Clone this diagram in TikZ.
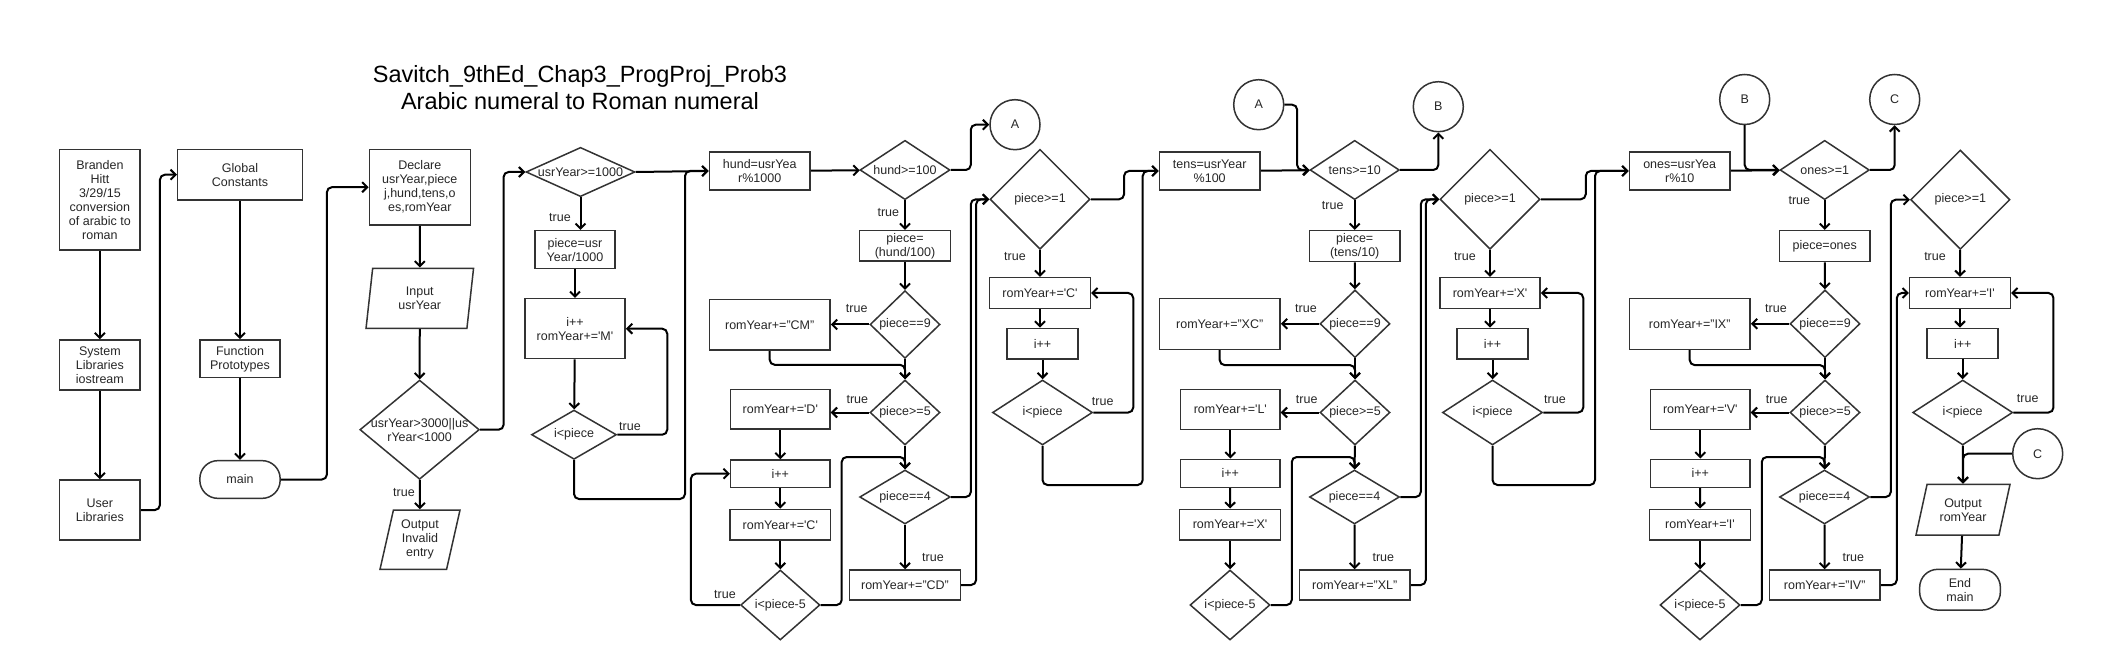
\documentclass[tikz,border=0pt]{standalone}
\usepackage{fontspec}
\setmainfont{Liberation Sans}
\usepackage{tikz}
\usetikzlibrary{arrows.meta,shapes.geometric}
\usepackage{xcolor}
\newcommand{\rch}[1]{\textquotesingle#1\textquotesingle}
\tikzset{
  box/.style 2 args={rectangle,draw=black!80,line width=1.5pt,align=center,inner sep=1pt,minimum width=#1,minimum height=#2},
  dec/.style 2 args={diamond,draw=black!80,line width=1.5pt,align=center,inner sep=0pt,minimum width=#1,minimum height=#2},
  io/.style 2 args={trapezium,trapezium left angle=72,trapezium right angle=108,trapezium stretches body,draw=black!80,line width=1.5pt,align=center,inner sep=1pt,minimum width=#1,minimum height=#2},
  term/.style 2 args={rectangle,rounded corners=18pt,draw=black!80,line width=1.5pt,align=center,minimum width=#1,minimum height=#2},
  offpage/.style={circle,draw=black!80,line width=1.5pt,minimum size=50pt,inner sep=0pt},
  lbl/.style={inner sep=0pt},
  arr/.style={-{Straight Barb[length=5pt,width=10pt]},line width=2pt,rounded corners=5pt}
}
\begin{document}
\begin{tikzpicture}[x=1pt,y=-1pt,font=\fontsize{12.5}{14}\selectfont,text=black!85]
\useasboundingbox (0,0) rectangle (2121,660);
\node[font=\fontsize{23.5}{27}\selectfont,align=center,text=black] (title) at (580,88) {Savitch\_9thEd\_Chap3\_ProgProj\_Prob3\\Arabic numeral to Roman numeral};

\node[box={80.6}{100.7}] (info) at (99.9,199.7) {Branden\\Hitt\\3/29/15\\conversion\\of arabic to\\roman};
\node[box={80.6}{50}] (syslib) at (99.9,365) {System\\Libraries\\iostream};
\node[box={80.6}{60}] (usrlib) at (99.9,510) {User\\Libraries};
\node[box={124.6}{50.7}] (glob) at (240,174.7) {Global\\Constants};
\node[box={80.3}{37.7}] (proto) at (240,358.8) {Function\\Prototypes};
\node[term={80.3}{37.7}] (main) at (240,479.5) {main};
\node[box={101}{75.7}] (decl) at (419.8,187.2) {Declare\\usrYear,piece\\j,hund,tens,o\\es,romYear};
\node[io={107.5}{60},trapezium left angle=75,trapezium right angle=105] (input) at (419.8,298.3) {Input\\usrYear};
\node[dec={119.5}{99.3},inner xsep=-14pt,inner ysep=-4pt,shape aspect=1.2] (chk) at (419.6,429.7) {usrYear>3000||us\\rYear<1000};
\node[io={80}{59.3}] (invalid) at (420,539.7) {Output\\Invalid\\entry};

\node[dec={109}{49.3},shape aspect=2.3] (th) at (580.5,172) {usrYear>=1000};
\node[box={80.3}{38}] (thpc) at (575,249.7) {piece=usr\\Year/1000};
\node[box={100.3}{60}] (thadd) at (575,328.7) {i++\\romYear+=\rch{M}};
\node[dec={85}{49.3},shape aspect=1.7] (thlp) at (574,434.7) {i<piece};

\node[box={100.7}{37.7}] (hund) at (759.7,171) {hund=usrYea\\r\%1000};
\node[dec={90}{59.3},shape aspect=1.5] (hchk) at (905,170) {hund>=100};
\node[offpage] (offA1) at (1015,124.7) {A};
\node[box={90.7}{30.3}] (hpc) at (905,245.8) {piece=\\(hund/100)};
\node[dec={70}{67.7}] (hnine) at (905,324.5) {piece==9};
\node[box={120.7}{50.7}] (hcm) at (769.7,324.7) {romYear+="CM"};
\node[dec={70}{65}] (hfive) at (905,412.5) {piece>=5};
\node[box={99.3}{39.7}] (hd) at (780.3,409.2) {romYear+=\rch{D}};
\node[box={99.3}{27.3}] (hinc) at (780.3,473.7) {i++};
\node[box={100.7}{30.7}] (hc) at (780.3,524.7) {romYear+=\rch{C}};
\node[dec={79.3}{70}] (hlp) at (780.3,605) {i<piece-5};
\node[dec={90.7}{54},shape aspect=1.67] (hfour) at (905,497) {piece==4};
\node[box={110.7}{30}] (hcd) at (905,585) {romYear+="CD"};
\node[dec={100}{100}] (hone) at (1040,199.3) {piece>=1};
\node[box={100.7}{30.7}] (hcc) at (1040,293) {romYear+=\rch{C}};
\node[box={70.7}{30.7}] (hinc2) at (1042.5,343.7) {i++};
\node[dec={100}{65}] (hlp2) at (1042.5,412.5) {i<piece};

\node[box={100.7}{37.7}] (tens) at (1209.7,171) {tens=usrYear\\\%100};
\node[offpage] (offA2) at (1258.7,104.7) {A};
\node[dec={89.3}{59.3},shape aspect=1.5] (tchk) at (1354.7,170) {tens>=10};
\node[offpage] (offB1) at (1438.3,106.7) {B};
\node[box={90.7}{31}] (tpc) at (1354.7,246.2) {piece=\\(tens/10)};
\node[dec={70}{67.7}] (tnine) at (1355,323.8) {piece==9};
\node[box={120.7}{50.7}] (txc) at (1219.7,324) {romYear+="XC"};
\node[dec={70}{65}] (tfive) at (1355,412.5) {piece>=5};
\node[box={99.3}{40}] (tl) at (1230.3,409.3) {romYear+=\rch{L}};
\node[box={99.3}{28}] (tinc) at (1230.3,473.3) {i++};
\node[box={100.7}{30.7}] (tx) at (1230,524.7) {romYear+=\rch{X}};
\node[dec={80}{70}] (tlp) at (1230,605) {i<piece-5};
\node[dec={90}{54},shape aspect=1.67] (tfour) at (1354.5,497) {piece==4};
\node[box={110.7}{30}] (txl) at (1354.7,585) {romYear+="XL"};
\node[dec={100}{100}] (tone) at (1490,199.3) {piece>=1};
\node[box={100}{30.7}] (txx) at (1490,293) {romYear+=\rch{X}};
\node[box={71}{30.7}] (tinc2) at (1492.5,343.7) {i++};
\node[dec={100}{65}] (tlp2) at (1492.5,412.5) {i<piece};

\node[box={100.7}{37.7}] (ones) at (1679.7,171) {ones=usrYea\\r\%10};
\node[offpage] (offB2) at (1744.7,99.5) {B};
\node[dec={89.3}{59.3},shape aspect=1.5] (ochk) at (1824.7,170) {ones>=1};
\node[offpage] (offC1) at (1894.7,99.5) {C};
\node[box={90.7}{31}] (opc) at (1824.7,246.2) {piece=ones};
\node[dec={70}{67.7}] (onine) at (1825,323.8) {piece==9};
\node[box={120.7}{50.7}] (oix) at (1689.7,324) {romYear+="IX"};
\node[dec={70}{65}] (ofive) at (1825,412.5) {piece>=5};
\node[box={99.3}{40}] (ov) at (1700.3,409.3) {romYear+=\rch{V}};
\node[box={99.3}{28}] (oinc) at (1700.3,473.3) {i++};
\node[box={100.7}{30.7}] (oi) at (1700,524.7) {romYear+=\rch{I}};
\node[dec={80}{70}] (olp) at (1700,605) {i<piece-5};
\node[dec={90}{54},shape aspect=1.67] (ofour) at (1824.5,497) {piece==4};
\node[box={110.7}{30}] (oiv) at (1824.7,585) {romYear+="IV"};
\node[dec={99.3}{99.3}] (oone) at (1960.3,199.7) {piece>=1};
\node[box={100.7}{30.7}] (oii) at (1960,293) {romYear+=\rch{I}};
\node[box={71}{30.4}] (oinc2) at (1962.7,343.5) {i++};
\node[dec={100}{65}] (olp2) at (1962.7,412.5) {i<piece};
\node[offpage] (offC2) at (2037.7,453.7) {C};
\node[io={94}{50.7},trapezium left angle=66,trapezium right angle=114] (out) at (1963,509.7) {Output\\romYear};
\node[term={80.7}{40.7}] (fin) at (1960,589.7) {End\\main};

\node[lbl] (t1) at (404,492.7) {true};
\node[lbl] (t2) at (560,217.7) {true};
\node[lbl] (t3) at (630,426.7) {true};
\node[lbl] (t4) at (888.3,212.7) {true};
\node[lbl] (t5) at (856.7,308.7) {true};
\node[lbl] (t6) at (857.3,399.3) {true};
\node[lbl] (t7) at (725,595) {true};
\node[lbl] (t8) at (933,557.7) {true};
\node[lbl] (t9) at (1015,256.7) {true};
\node[lbl] (t10) at (1102.7,401.7) {true};
\node[lbl] (t11) at (1332.7,205.7) {true};
\node[lbl] (t12) at (1306,308.3) {true};
\node[lbl] (t13) at (1306.7,399.3) {true};
\node[lbl] (t14) at (1383.3,557.7) {true};
\node[lbl] (t15) at (1465,256.7) {true};
\node[lbl] (t16) at (1555,399.3) {true};
\node[lbl] (t17) at (1799.3,200.7) {true};
\node[lbl] (t18) at (1776,308.3) {true};
\node[lbl] (t19) at (1776.7,399.3) {true};
\node[lbl] (t20) at (1853.3,557.7) {true};
\node[lbl] (t21) at (1935,256.7) {true};
\node[lbl] (t22) at (2027.7,398.3) {true};

\draw[arr] (info) -- (syslib);
\draw[arr] (syslib) -- (usrlib);
\draw[arr] (usrlib.east) -- ++(19,0) |- (glob.west);
\draw[arr] (glob) -- (proto);
\draw[arr] (proto) -- (main);
\draw[arr] (main.east) -- ++(46,0) |- (decl.west);
\draw[arr] (decl) -- (input);
\draw[arr] (input) -- (chk);
\draw[arr] (chk) -- (invalid);
\draw[arr] (chk.east) -- ++(23.5,0) |- (th.west);

\draw[arr] (th.south) -- (th.south |- thpc.north);
\draw[arr] (thpc) -- (thadd);
\draw[arr] (thadd) -- (thlp);
\draw[arr] (thlp.east) -- ++(50,0) |- (thadd.east);
\draw[arr] (thlp.south) |- (685,499) |- (hund.west);
\draw[arr] (th.east) -- (hund.west);

\draw[arr] (hund) -- (hchk);
\draw[arr] (hchk.east) -- ++(20,0) |- (offA1.west);
\draw[arr] (hchk) -- (hpc);
\draw[arr] (hpc) -- (hnine);
\draw[arr] (hnine.west) -- (hnine.west -| hcm.east);
\draw[arr] (hcm.south) -- ++(0,14) -| (hfive.north);
\draw[arr] (hnine) -- (hfive);
\draw[arr] (hfive.west) -- (hfive.west -| hd.east);
\draw[arr] (hd) -- (hinc);
\draw[arr] (hinc) -- (hc);
\draw[arr] (hc) -- (hlp);
\draw[arr] (hlp.west) -- ++(-49,0) |- (hinc.west);
\draw[arr] (hlp.east) -| ++(21,-148) -| (hfour.north);
\draw[arr] (hfive) -- (hfour);
\draw[arr] (hfour) -- (hcd);
\draw[arr] (hfour.east) -- ++(19.7,0) |- (hone.west);
\draw[arr] (hcd.east) -- ++(15,0) |- (hone.west);
\draw[arr] (hone) -- (hcc);
\draw[arr] (hcc.south) -- (hcc.south |- hinc2.north);
\draw[arr] (hinc2) -- (hlp2);
\draw[arr] (hlp2.east) -- ++(40,0) |- (hcc.east);
\draw[arr] (hlp2.south) |- (1142.7,485) |- (tens.west);
\draw[arr] (hone.east) -- ++(33.3,0) |- (tens.west);

\draw[arr] (tens) -- (tchk);
\draw[arr] (offA2.east) -- ++(12.7,0) |- (tchk.west);
\draw[arr] (tchk.east) -| (offB1.south);
\draw[arr] (tchk) -- (tpc);
\draw[arr] (tpc) -- (tnine);
\draw[arr] (tnine.west) -- (tnine.west -| txc.east);
\draw[arr] (txc.south) -- ++(0,15) -| (tfive.north);
\draw[arr] (tnine) -- (tfive);
\draw[arr] (tfive.west) -- (tfive.west -| tl.east);
\draw[arr] (tl) -- (tinc);
\draw[arr] (tinc) -- (tx);
\draw[arr] (tx) -- (tlp);
\draw[arr] (tlp.east) -| ++(21,-148) -| (tfour.north);
\draw[arr] (tfive) -- (tfour);
\draw[arr] (tfour) -- (txl);
\draw[arr] (tfour.east) -- ++(20.5,0) |- (tone.west);
\draw[arr] (txl.east) -- ++(15,0) |- (tone.west);
\draw[arr] (tone) -- (txx);
\draw[arr] (txx.south) -- (txx.south |- tinc2.north);
\draw[arr] (tinc2) -- (tlp2);
\draw[arr] (tlp2.east) -- ++(40,0) |- (txx.east);
\draw[arr] (tlp2.south) |- (1595,485) |- (ones.west);
\draw[arr] (tone.east) -- ++(45,0) |- (ones.west);

\draw[arr] (ones) -- (ochk);
\draw[arr] (offB2.south) |- (ochk.west);
\draw[arr] (ochk.east) -| (offC1.south);
\draw[arr] (ochk) -- (opc);
\draw[arr] (opc) -- (onine);
\draw[arr] (onine.west) -- (onine.west -| oix.east);
\draw[arr] (oix.south) -- ++(0,15) -| (ofive.north);
\draw[arr] (onine) -- (ofive);
\draw[arr] (ofive.west) -- (ofive.west -| ov.east);
\draw[arr] (ov) -- (oinc);
\draw[arr] (oinc) -- (oi);
\draw[arr] (oi) -- (olp);
\draw[arr] (olp.east) -| ++(21,-148) -| (ofour.north);
\draw[arr] (ofive) -- (ofour);
\draw[arr] (ofour) -- (oiv);
\draw[arr] (ofour.east) -- ++(20.5,0) |- (oone.west);
\draw[arr] (oiv.east) -- ++(16,0) |- (oii.west);
\draw[arr] (oone) -- (oii);
\draw[arr] (oii.south) -- (oii.south |- oinc2.north);
\draw[arr] (oinc2) -- (olp2);
\draw[arr] (olp2.east) -- ++(40,0) |- (oii.east);
\draw[arr] (olp2) -- (out);
\draw[arr] (offC2.west) -| (out.north);
\draw[arr] (out) -- (fin);
\end{tikzpicture}
\end{document}
